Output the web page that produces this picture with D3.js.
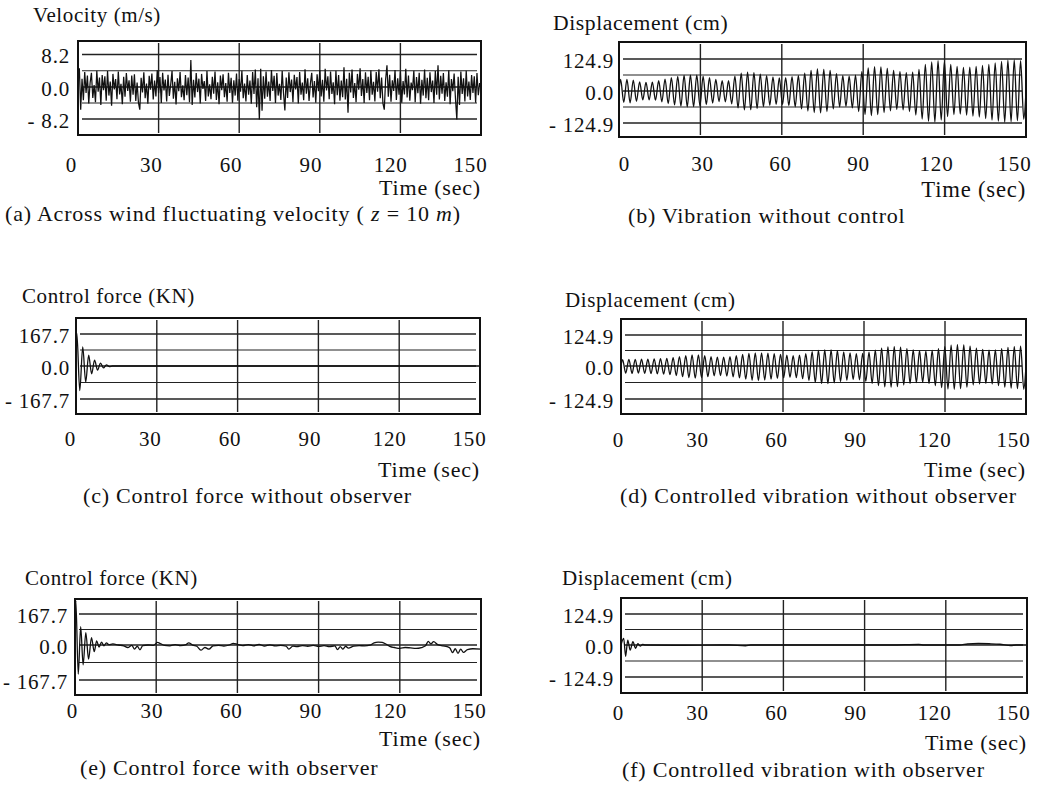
<!DOCTYPE html>
<html>
<head>
<meta charset="utf-8">
<script src="https://cdn.jsdelivr.net/npm/d3@7"></script>
<style>
  body { margin: 0; background: #fff; }
  text { font-family: "Liberation Serif", "Times New Roman", serif; fill: #111; }
</style>
</head>
<body>
<svg id="chart" width="1039" height="786"></svg>
<script>
// ---- data ----
const xTicks = [0, 30, 60, 90, 120, 150];
const gridTimes = [30, 60, 90, 120];

// (a) across wind fluctuating velocity, m/s, one sample every 0.5 s
const velocity = [
  1.2, 4.7, -5.8, 2.1, -3.4, 3.8, -1.5, 2.9, -4.2, 1.0, 3.6, -2.8, 0.5, -3.9, 4.1, -1.2, 2.4, -4.6, 3.0, -0.8,
  2.7, -3.5, 4.0, -2.2, 1.4, -4.8, 3.3, -0.6, 2.0, -3.1, 3.9, -1.9, 0.8, -4.4, 2.6, -2.5, 3.5, -1.0, 1.7, -3.8,
  2.9, -2.0, 3.2, -3.6, 1.1, -4.0, -5.8, 2.3, -1.4, 3.7, -2.9, 0.9, -4.3, 2.8, -0.7, 3.4, -3.2, 1.6, -2.4, 4.2,
  -1.6, 2.5, -4.1, 3.6, -0.9, 1.9, -3.7, 3.1, -2.3, 0.6, 4.0, -3.0, 1.3, -4.5, 2.2, -1.1, 3.8, -2.6, 0.4, -3.4,
  3.0, -2.1, 2.4, -3.9, 6.8, -4.6, 1.8, -2.7, 3.5, -1.3, 2.1, -4.2, 3.3, -0.5, 1.5, -3.6, 4.0, -2.4, 0.7, -3.1,
  2.6, -1.7, 3.9, -3.3, 1.2, -4.4, 2.9, -0.8, 3.2, -2.6, 1.0, -3.8, 3.6, -1.5, 2.3, -4.0, 1.7, -2.2, 3.4, -3.5,
  2.0, -1.2, 4.1, -2.9, 0.9, -3.7, 3.0, -2.0, 1.6, -4.3, 3.8, -1.8, 4.4, -5.2, 2.2, -8.3, 4.6, -6.1, 2.7, -3.0,
  3.9, -2.5, 1.4, -3.6, 4.3, -1.0, 2.8, -4.1, 3.5, -2.2, 0.8, -3.3, 4.0, -1.6, -6.0, 2.4, -2.8, 3.7, -1.3, 1.9,
  -3.9, 3.1, -0.6, 2.5, -4.2, 3.8, -2.0, 1.1, -3.4, 4.5, -1.7, 2.2, -3.6, 0.9, 3.6, -2.7, 1.5, -4.0, 3.2, -1.1,
  4.3, -2.4, 1.8, -3.8, 4.6, -0.9, 2.7, -3.1, 3.9, -1.8, 1.2, -4.4, 4.1, -2.1, 3.0, -3.5, 1.6, -2.6, 5.0, -3.2,
  2.1, -6.6, 3.6, -1.4, 4.4, -2.8, 1.0, -3.9, 3.3, -0.7, 4.7, -2.3, 2.0, -4.1, 3.7, -1.5, 2.6, -3.4, 4.2, -2.0,
  1.3, -3.7, 3.8, -1.2, 4.5, -2.9, 2.4, -4.2, -5.8, 1.9, 5.5, -2.5, 3.1, -3.8, 1.7, -1.0, 4.3, -3.3, 2.2, -2.0,
  3.9, -4.0, 1.5, -1.9, 4.6, -2.7, 2.9, -3.5, 1.1, -0.8, 4.1, -3.9, 2.5, -1.6, 3.6, -4.3, 1.8, -2.2, 4.4, -2.9,
  2.3, -3.4, 3.7, -1.3, 1.6, -4.1, 4.0, -2.0, 5.5, -3.2, 2.8, -1.7, 3.5, -3.6, 1.2, -2.5, 4.2, -4.4, 2.0, -1.1,
  3.4, -3.0, -8.3, 2.6, -4.6, 3.9, -1.8, 2.2, -3.7, 4.1, -2.4, 1.4, -3.3, 3.0, -1.5, 2.7, -4.0, 3.5, -2.1, 1.0,
  -0.5
];
const velocityStep = 0.5;

// (b) vibration without control, cm: crest and trough of each cycle
const bMax = [45, 45, 42, 36, 34, 35, 40, 46, 52, 57, 61, 62, 62, 58, 52, 45, 40, 40, 58, 70,
              74, 72, 66, 60, 55, 51, 52, 56, 60, 70, 80, 86, 84, 80, 68, 60, 58, 62, 76, 90,
              95, 94, 88, 80, 76, 72, 74, 84, 104, 114, 118, 116, 104, 96, 92, 93, 96, 100, 104, 110,
              116, 120, 121, 118];
const bMin = [-44, -46, -40, -35, -35, -36, -42, -49, -54, -59, -62, -61, -58, -53, -47, -41, -42, -50, -66, -74,
              -73, -68, -61, -56, -52, -53, -57, -62, -70, -78, -84, -85, -80, -70, -62, -60, -66, -80, -92, -96,
              -92, -84, -77, -72, -74, -80, -94, -110, -118, -121, -114, -100, -92, -90, -94, -98, -102, -108, -114, -118,
              -122, -120, -116, -110];

// (d) controlled vibration without observer, cm
const dMax = [26, 27, 27, 28, 28, 29, 30, 31, 34, 38, 42, 45, 45, 42, 38, 36, 36, 38, 42, 47,
              51, 53, 53, 52, 50, 47, 44, 42, 44, 50, 58, 63, 65, 65, 62, 57, 53, 50, 51, 56,
              64, 72, 77, 78, 76, 70, 65, 62, 60, 63, 70, 78, 84, 86, 85, 80, 72, 67, 64, 65,
              70, 75, 78, 80];
const dMin = [-27, -28, -27, -28, -29, -30, -31, -33, -36, -40, -44, -46, -44, -40, -37, -36, -38, -41, -45, -50,
              -54, -55, -53, -50, -47, -45, -43, -44, -48, -55, -62, -66, -67, -64, -59, -54, -51, -52, -58, -66,
              -74, -79, -80, -78, -72, -66, -63, -62, -66, -74, -82, -87, -88, -86, -80, -72, -68, -66, -68, -74,
              -80, -84, -86, -88];
const cyclePeriod = 2.34;

// (c) control force without observer, KN  [time, value]
const forceNoObs = [[0, 0], [0.3, 172], [1.4, -125], [2.5, 100], [3.6, -82], [4.7, 57], [5.8, -40],
  [6.9, 31], [8.0, -21], [9.1, 15], [10.2, -10], [11.3, 6], [12.4, -3], [13.5, 0], [150, 0]];

// (e) control force with observer, KN  [time, value]
const forceObs = [[0, 0], [0.3, 240], [1.2, -140], [2.1, 99], [3.0, -95], [4.0, 67], [5.0, -68], [6.1, 40],
  [7.1, -32], [8.0, 22], [8.9, -10], [9.8, 16], [10.7, -4], [11.6, 12], [12.5, 2], [14, 6], [16, 0], [18, -4],
  [19.5, -12], [21, -2], [22, -20], [23, -6], [24, -23], [25, -3], [27, 0], [29, -2], [30.5, 14], [31.5, 8],
  [33, -2], [35, -4], [37, 2], [39, -3], [41, 2], [42, 12], [43.5, -1], [45, -6], [46.5, -25], [48, -12],
  [49.5, -20], [51, -4], [53, -2], [55, -5], [57, 0], [58.5, 9], [60, 4], [62, -3], [64, 2], [66, -4], [68, 3],
  [70, -5], [72, 1], [74, -4], [76, -2], [78, -6], [79, -20], [80.5, -5], [82, -8], [84, -3], [86, -6], [88, -2],
  [90, -7], [92, -3], [94, -8], [96, -4], [97, -22], [98, -8], [99, -20], [100, -6], [101, -15], [103, -5],
  [105, -3], [107, -4], [109, -1], [110.5, 12], [112, 16], [113.5, 14], [115, 4], [116.5, -8], [118, -12],
  [120, -16], [122, -12], [124, -14], [126, -16], [128, -12], [129.5, -4], [130.5, 20], [131.5, 6], [132.5, 18],
  [134, 2], [136, -4], [137.5, -8], [138.5, -14], [139.5, -36], [140.5, -18], [141.5, -40], [142.5, -20],
  [143.5, -35], [145, -22], [147, -18], [150, -20]];

// (f) controlled vibration with observer, cm  [time, value]
const dispObs = [[0, 0], [1.0, 27], [1.7, -44], [2.5, 20], [3.4, -20], [4.4, 13], [5.4, -13], [6.2, 5],
  [7.1, -4], [8, 2], [9, 0], [20, -1], [40, 0], [46, -3], [48, 0], [60, 0], [100, 0], [110, 2], [112, 0],
  [125, 0], [128, 4], [132, 6], [136, 5], [140, 3], [144, -2], [146, 0], [150, 0]];

// ---- layout ----
const panels = [
  { key: "a", left: 78, right: 481, top: 41, bottom: 135, refTop: 54.5, zero: 87, refBot: 119, ref: 8.2,
    tickRight: 70, labelRange: [71, 470], tickY: 172, timeY: 195, unitX: 33, unitY: 22,
    unit: "Velocity (m/s)", capX: 5, capY: 221, scale: 1 },
  { key: "b", left: 619, right: 1026, top: 42, bottom: 137, refTop: 59, zero: 91, refBot: 123, ref: 124.9,
    tickRight: 614, labelRange: [624, 1014], tickY: 171, timeY: 197, unitX: 553, unitY: 30,
    unit: "Displacement (cm)", capX: 628, capY: 223, scale: 1.03 },
  { key: "c", left: 76, right: 480, top: 318, bottom: 414, refTop: 334, zero: 366, refBot: 399, ref: 167.7,
    tickRight: 70, labelRange: [70, 469], tickY: 446, timeY: 477, unitX: 22, unitY: 303,
    unit: "Control force (KN)", capX: 83, capY: 503, scale: 1 },
  { key: "d", left: 621, right: 1026, top: 319, bottom: 414, refTop: 335, zero: 366, refBot: 399, ref: 124.9,
    tickRight: 614, labelRange: [618, 1013], tickY: 447, timeY: 477, unitX: 565, unitY: 307,
    unit: "Displacement (cm)", capX: 620, capY: 503, scale: 1 },
  { key: "e", left: 75, right: 481, top: 599, bottom: 695, refTop: 614, zero: 645, refBot: 680, ref: 167.7,
    tickRight: 68, labelRange: [72, 469], tickY: 718, timeY: 746, unitX: 25, unitY: 585,
    unit: "Control force (KN)", capX: 80, capY: 775, scale: 1 },
  { key: "f", left: 621, right: 1027, top: 598, bottom: 693, refTop: 614, zero: 645, refBot: 677, ref: 124.9,
    tickRight: 614, labelRange: [618, 1013], tickY: 720, timeY: 750, unitX: 562, unitY: 585,
    unit: "Displacement (cm)", capX: 622, capY: 777, scale: 1 }
];

const captions = {
  a: ["(a) Across wind fluctuating velocity ( ", ["z", true], " = 10 ", ["m", true], ")"],
  b: ["(b) Vibration without control"],
  c: ["(c) Control force without observer"],
  d: ["(d) Controlled vibration without observer"],
  e: ["(e) Control force with observer"],
  f: ["(f) Controlled vibration with observer"]
};

// turn crest/trough lists into a time series
function cycles(maxs, mins) {
  const pts = [[0, 0]];
  maxs.forEach((m, i) => {
    pts.push([(i + 0.25) * cyclePeriod, m]);
    pts.push([(i + 0.75) * cyclePeriod, mins[i]]);
  });
  pts.push([150, 0]);
  return pts;
}

const series = {
  a: velocity.map((v, i) => [i * velocityStep, v]),
  b: cycles(bMax, bMin),
  c: forceNoObs,
  d: cycles(dMax, dMin),
  e: forceObs,
  f: dispObs
};

const svg = d3.select("#chart");

function fmt(ref) {
  return d => d === 0 ? "0.0" : (d < 0 ? "- " + ref.toFixed(1) : ref.toFixed(1));
}

panels.forEach(p => {
  const g = svg.append("g");
  const x = d3.scaleLinear().domain([0, 150]).range([p.left, p.right]);
  const y = d3.scaleLinear().domain([-p.ref, 0, p.ref]).range([p.refBot, p.zero, p.refTop]);
  const xl = d3.scaleLinear().domain([0, 150]).range(p.labelRange);

  g.append("clipPath").attr("id", "clip-" + p.key)
    .append("rect").attr("x", p.left).attr("y", p.top)
    .attr("width", p.right - p.left).attr("height", p.bottom - p.top);

  // grid
  const hLevels = [-p.ref, -p.ref / 2, 0, p.ref / 2, p.ref];
  g.selectAll(".hg").data(hLevels).enter().append("line")
    .attr("x1", p.left + 4).attr("x2", p.right - 4)
    .attr("y1", d => y(d)).attr("y2", d => y(d))
    .attr("stroke", "#222").attr("stroke-width", d => Math.abs(d) === p.ref / 2 ? 1.1 : 1.4);
  g.selectAll(".vg").data(gridTimes).enter().append("line")
    .attr("x1", d => x(d)).attr("x2", d => x(d))
    .attr("y1", p.top + 2).attr("y2", p.bottom - 2)
    .attr("stroke", "#222").attr("stroke-width", 1.4);

  // signal
  const line = d3.line().x(d => x(d[0])).y(d => y(d[1]))
    .curve(p.key === "a" ? d3.curveLinear : d3.curveMonotoneX);
  g.append("path").datum(series[p.key])
    .attr("clip-path", "url(#clip-" + p.key + ")")
    .attr("fill", "none").attr("stroke", "#111")
    .attr("stroke-width", p.key === "a" ? 1.25 : 1.3)
    .attr("d", line);

  // frame
  g.append("rect").attr("x", p.left).attr("y", p.top)
    .attr("width", p.right - p.left).attr("height", p.bottom - p.top)
    .attr("fill", "none").attr("stroke", "#111").attr("stroke-width", 2);

  // y tick labels
  const ya = g.append("g").attr("transform", `translate(${p.tickRight},0)`)
    .call(d3.axisLeft(y).tickValues([p.ref, 0, -p.ref]).tickSize(0).tickPadding(0).tickFormat(fmt(p.ref)));
  ya.select(".domain").remove();
  ya.selectAll("text").attr("font-family", null).attr("font-size", 21)
    .attr("letter-spacing", 0.8).attr("dy", "0.4em").attr("fill", "#111");

  // x tick labels
  const xa = g.append("g").attr("transform", `translate(0,${p.tickY})`)
    .call(d3.axisBottom(xl).tickValues(xTicks).tickSize(0).tickPadding(0).tickFormat(d3.format("d")));
  xa.select(".domain").remove();
  xa.selectAll("text").attr("font-family", null).attr("font-size", 21)
    .attr("letter-spacing", 0.8).attr("dy", 0).attr("fill", "#111");

  g.append("text").attr("x", p.right).attr("y", p.timeY).attr("text-anchor", "end")
    .attr("font-size", 22 * p.scale).attr("letter-spacing", 0.8).text("Time (sec)");
  g.append("text").attr("x", p.unitX).attr("y", p.unitY)
    .attr("font-size", 21 * p.scale).attr("letter-spacing", 0.6).text(p.unit);

  const cap = g.append("text").attr("x", p.capX).attr("y", p.capY)
    .attr("font-size", 22).attr("letter-spacing", 0.8);
  captions[p.key].forEach(part => {
    if (Array.isArray(part)) cap.append("tspan").attr("font-style", "italic").text(part[0]);
    else cap.append("tspan").text(part);
  });
});
</script>
</body>
</html>
